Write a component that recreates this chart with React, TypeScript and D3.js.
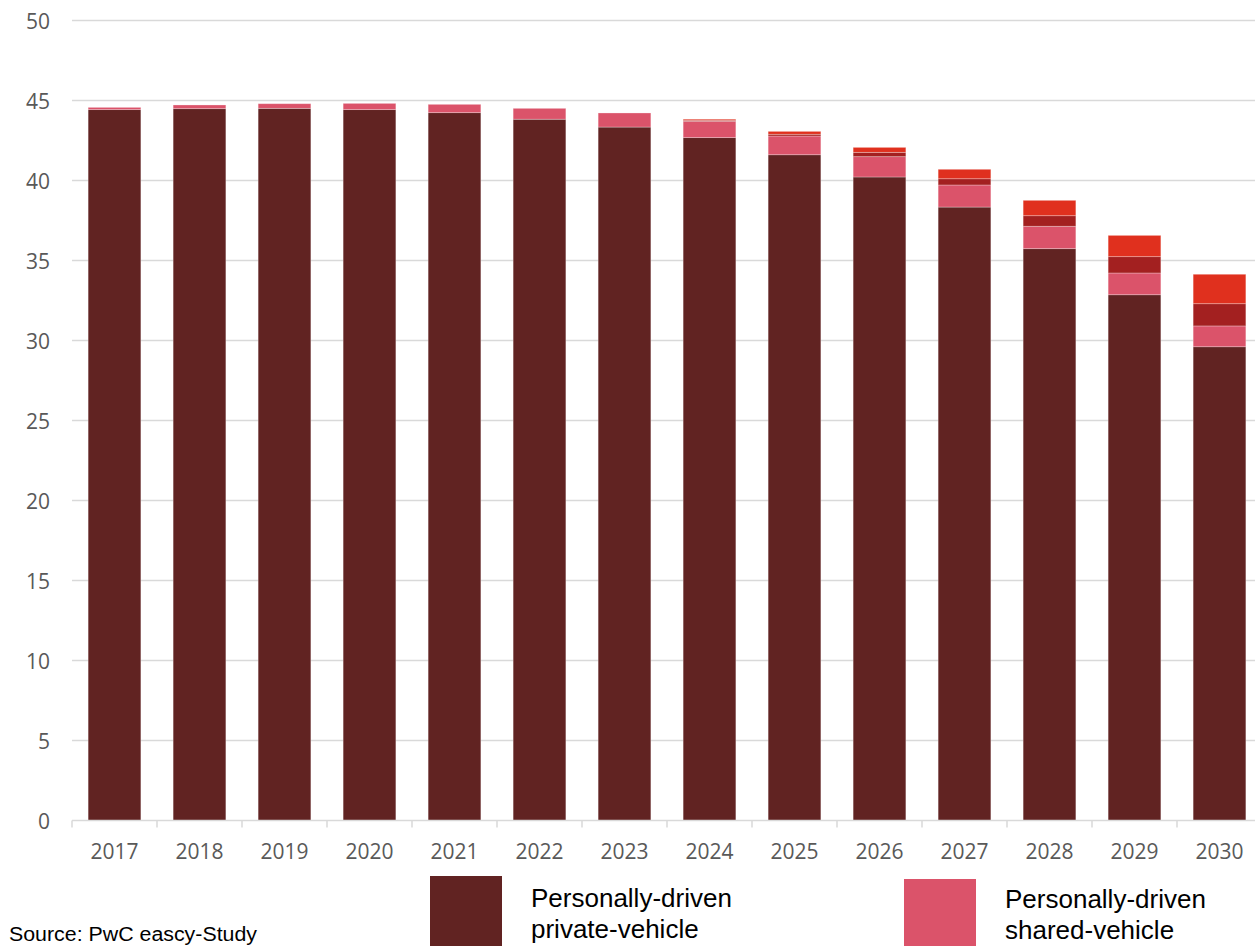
import React from "react";
import * as d3 from "d3";

// Passenger-km outlook by mode of driving (bn), 2017–2030
const years = ["2017", "2018", "2019", "2020", "2021", "2022", "2023", "2024", "2025", "2026", "2027", "2028", "2029", "2030"];
const privateDriven = [44.43, 44.49, 44.51, 44.43, 44.24, 43.83, 43.34, 42.68, 41.61, 40.22, 38.34, 35.74, 32.86, 29.61];
const sharedDriven = [0.14, 0.23, 0.29, 0.39, 0.52, 0.68, 0.88, 1.02, 1.17, 1.27, 1.38, 1.4, 1.36, 1.3];
const autonomousPrivate = [0, 0, 0, 0, 0, 0, 0, 0.06, 0.11, 0.27, 0.39, 0.66, 1.02, 1.39];
const autonomousShared = [0, 0, 0, 0, 0, 0, 0, 0.07, 0.18, 0.31, 0.59, 0.96, 1.33, 1.84];
const yTicks = [0, 5, 10, 15, 20, 25, 30, 35, 40, 45, 50];

const seriesKeys = ["privateDriven", "sharedDriven", "autonomousPrivate", "autonomousShared"];
const seriesColors = ["#612322", "#DB536A", "#A32020", "#E0301E"];

const legendItems = [
  { color: "#612322", lines: ["Personally-driven", "private-vehicle"], x: 430, top: 876, textX: 531, base: 906.7 },
  { color: "#DB536A", lines: ["Personally-driven", "shared-vehicle"], x: 904, top: 879, textX: 1005, base: 907.7 },
];

const W = 1255;
const H = 946;

export default function App() {
  const rows = years.map((year, i) => ({
    year,
    privateDriven: privateDriven[i],
    sharedDriven: sharedDriven[i],
    autonomousPrivate: autonomousPrivate[i],
    autonomousShared: autonomousShared[i],
  }));

  const stack = d3.stack<any>().keys(seriesKeys);
  const layers = stack(rows);

  const x = d3.scaleBand<string>().domain(years).range([72, 1262]).paddingInner(0.38).paddingOuter(0.19);
  const y = d3.scaleLinear().domain([0, 50]).range([820.5, 20.5]);

  const axisFont = "'Open Sans', sans-serif";
  const step = x.step();

  return (
    <div style={{ position: "absolute", left: 0, top: 0, width: W, height: H, overflow: "hidden", background: "#fff" }}>
      <svg width={W} height={H} style={{ display: "block" }}>
        {/* horizontal gridlines */}
        {yTicks.filter((t) => t > 0).map((t) => (
          <line key={t} x1={72} x2={W} y1={y(t)} y2={y(t)} stroke="#d9d9d9" strokeWidth={1.3} />
        ))}
        {/* y labels */}
        {yTicks.map((t) => (
          <text key={t} x={50} y={y(t)} dy="0.41em" textAnchor="end" fontFamily={axisFont} fontSize={21} fill="#595959">
            {t}
          </text>
        ))}
        {/* stacked bars */}
        {layers.map((layer, li) => (
          <g key={layer.key} fill={seriesColors[li]}>
            {layer.map((d: any) => {
              const h = y(d[0]) - y(d[1]);
              if (h <= 0) return null;
              return (
                <rect
                  key={d.data.year}
                  x={x(d.data.year)}
                  y={y(d[1])}
                  width={x.bandwidth()}
                  height={h}
                  stroke="#ffffff"
                  strokeOpacity={0.35}
                  strokeWidth={0.8}
                />
              );
            })}
          </g>
        ))}
        {/* x axis line and ticks */}
        <line x1={72} x2={W} y1={y(0)} y2={y(0)} stroke="#d9d9d9" strokeWidth={1.5} />
        {years.map((yr) => {
          const left = (x(yr) as number) - (step - x.bandwidth()) / 2;
          return <line key={"t" + yr} x1={left} x2={left} y1={y(0)} y2={y(0) + 7} stroke="#d9d9d9" strokeWidth={1.5} />;
        })}
        {years.map((yr) => (
          <text
            key={"l" + yr}
            x={(x(yr) as number) + x.bandwidth() / 2}
            y={859.3}
            textAnchor="middle"
            fontFamily={axisFont}
            fontSize={21}
            fill="#595959"
          >
            {yr}
          </text>
        ))}
        {/* source note */}
        <text x={9} y={940.7} fontFamily="Arial, 'Liberation Sans', sans-serif" fontSize={20} fill="#000" textLength={248} lengthAdjust="spacingAndGlyphs">
          Source: PwC eascy-Study
        </text>
        {/* legend */}
        {legendItems.map((item) => (
          <g key={item.lines.join(" ")}>
            <rect x={item.x} y={item.top} width={72} height={H - item.top + 10} fill={item.color} />
            {item.lines.map((ln, i) => (
              <text
                key={ln}
                x={item.textX}
                y={item.base + i * 31.6}
                fontFamily="Arial, 'Liberation Sans', sans-serif"
                fontSize={26}
                fill="#000"
              >
                {ln}
              </text>
            ))}
          </g>
        ))}
      </svg>
    </div>
  );
}
